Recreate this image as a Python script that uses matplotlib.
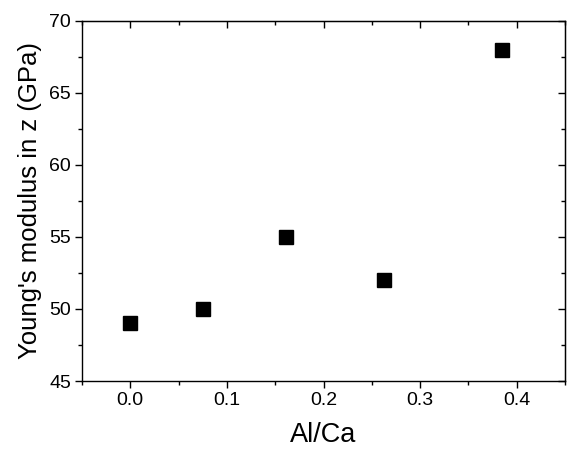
import numpy as np
import matplotlib.pyplot as plt
from matplotlib.ticker import MultipleLocator

al_ca = [0.0, 0.075, 0.1615, 0.263, 0.385]
youngs_z = [49, 50, 55, 52, 68]

plt.rcParams['font.family'] = ['Liberation Sans', 'DejaVu Sans']

fig = plt.figure(figsize=(5.67, 4.57), dpi=100)
ax = fig.add_axes([0.1446, 0.1663, 0.852, 0.788])

ax.plot(al_ca, youngs_z, 's', color='black', markersize=9.5, linestyle='none')

ax.set_xlim(-0.05, 0.45)
ax.set_ylim(45, 70)
ax.xaxis.set_major_locator(MultipleLocator(0.1))
ax.xaxis.set_minor_locator(MultipleLocator(0.05))
ax.yaxis.set_major_locator(MultipleLocator(5))
ax.yaxis.set_minor_locator(MultipleLocator(2.5))
ax.xaxis.set_major_formatter(plt.FormatStrFormatter('%.1f'))

ax.tick_params(which='both', direction='out', top=False, right=False, labelsize=14, width=1)
ax.tick_params(which='major', length=5, pad=3)
ax.tick_params(which='minor', length=3)

# mirrored inward ticks on top and right
axt = ax.secondary_xaxis('top')
axt.xaxis.set_major_locator(MultipleLocator(0.1))
axt.xaxis.set_minor_locator(MultipleLocator(0.05))
axt.tick_params(which='both', direction='in', labeltop=False, width=1)
axt.tick_params(which='major', length=5)
axt.tick_params(which='minor', length=3)
axr = ax.secondary_yaxis('right')
axr.yaxis.set_major_locator(MultipleLocator(5))
axr.yaxis.set_minor_locator(MultipleLocator(2.5))
axr.tick_params(which='both', direction='in', labelright=False, width=1)
axr.tick_params(which='major', length=5)
axr.tick_params(which='minor', length=3)

for s in ax.spines.values():
    s.set_linewidth(1)

ax.set_xlabel('Al/Ca', fontsize=19.5, labelpad=9)
ax.set_ylabel("Young's modulus in z (GPa)", fontsize=18.5, labelpad=5)

fig.savefig('out.png', dpi=100)
